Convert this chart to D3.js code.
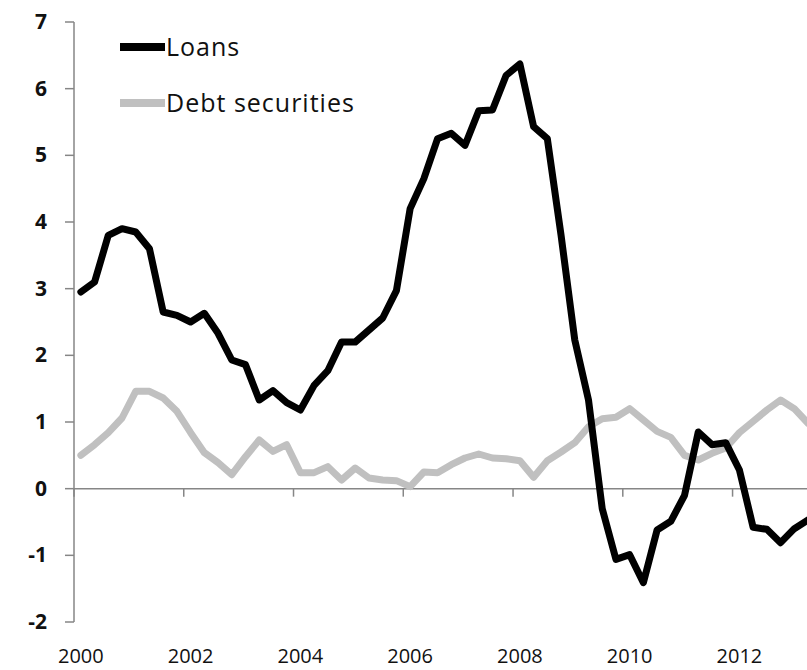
<!DOCTYPE html>
<html>
<head>
<meta charset="utf-8">
<script src="https://cdn.jsdelivr.net/npm/d3@7"></script>
<style>
  body { margin: 0; background: #fff; }
  text { font-family: "Open Sans", Lato, sans-serif; fill: #111; }
</style>
</head>
<body>
<div id="vis"></div>
<script>
// quarterly data, 2000Q1 onwards
const years = [2000, 2001, 2002, 2003, 2004, 2005, 2006, 2007, 2008, 2009, 2010, 2011, 2012, 2013];
const quarters = years.flatMap(y => ["Q1", "Q2", "Q3", "Q4"].map(q => y + q)).slice(0, 54);

const loans = [2.95, 3.1, 3.8, 3.9, 3.85, 3.6, 2.65, 2.6, 2.5, 2.63,
    2.33, 1.93, 1.86, 1.33, 1.47, 1.29, 1.18, 1.55, 1.77, 2.2,
    2.2, 2.38, 2.56, 2.97, 4.2, 4.65, 5.25, 5.33, 5.15, 5.67,
    5.68, 6.2, 6.37, 5.43, 5.25, 3.8, 2.23, 1.33, -0.3, -1.06,
    -0.99, -1.41, -0.62, -0.49, -0.1, 0.85, 0.66, 0.69, 0.28, -0.58,
    -0.61, -0.81, -0.6, -0.47];

const debtSecurities = [0.5, 0.66, 0.84, 1.06, 1.46, 1.46, 1.36, 1.16, 0.84, 0.54,
    0.39, 0.21, 0.48, 0.73, 0.56, 0.66, 0.24, 0.24, 0.33, 0.13,
    0.31, 0.16, 0.13, 0.12, 0.03, 0.25, 0.24, 0.36, 0.46, 0.52,
    0.46, 0.45, 0.42, 0.17, 0.42, 0.55, 0.69, 0.93, 1.05, 1.07,
    1.2, 1.03, 0.86, 0.77, 0.5, 0.43, 0.53, 0.61, 0.84, 1.01,
    1.18, 1.33, 1.2, 0.98];

const yTicks = [-2, -1, 0, 1, 2, 3, 4, 5, 6, 7];
const xLabels = ["2000", "2002", "2004", "2006", "2008", "2010", "2012"];

const seriesNames = ["Loans", "Debt securities"];
const seriesColors = ["#000000", "#c0c0c0"];

const svg = d3.select("#vis")
    .append("svg")
    .attr("width", 807)
    .attr("height", 670);

const x = d3.scaleBand()
    .domain(quarters)
    .range([74, 74 + 13.72 * quarters.length]);

const y = d3.scaleLinear()
    .domain([-2, 7])
    .range([622, 22]);

const axisColor = "#868686";

// y axis
svg.append("line")
    .attr("x1", 74).attr("x2", 74)
    .attr("y1", y(7)).attr("y2", y(-2))
    .attr("stroke", axisColor).attr("stroke-width", 1.5);

svg.selectAll(".ytick")
    .data(yTicks)
    .enter()
    .append("line")
    .attr("x1", 65).attr("x2", 74)
    .attr("y1", d => y(d)).attr("y2", d => y(d))
    .attr("stroke", axisColor).attr("stroke-width", 1.5);

svg.selectAll(".ylab")
    .data(yTicks)
    .enter()
    .append("text")
    .attr("x", 47)
    .attr("y", d => y(d) + 7)
    .attr("text-anchor", "end")
    .style("font-size", "21px")
    .style("font-weight", "bold")
    .text(d => d);

// x axis on zero
svg.append("line")
    .attr("x1", 74).attr("x2", 807)
    .attr("y1", y(0)).attr("y2", y(0))
    .attr("stroke", axisColor).attr("stroke-width", 1.5);

const tickQuarters = quarters.filter((d, i) => i % 8 === 0);

svg.selectAll(".xtick")
    .data(tickQuarters)
    .enter()
    .append("line")
    .attr("x1", d => x(d)).attr("x2", d => x(d))
    .attr("y1", y(0)).attr("y2", y(0) + 8)
    .attr("stroke", axisColor).attr("stroke-width", 1.5);

svg.selectAll(".xlab")
    .data(tickQuarters)
    .enter()
    .append("text")
    .attr("x", d => x(d) + x.bandwidth() / 2)
    .attr("y", 663)
    .attr("text-anchor", "middle")
    .style("font-size", "20px")
    .text((d, i) => xLabels[i]);

// lines
const line = d3.line()
    .x((d, i) => x(quarters[i]) + x.bandwidth() / 2)
    .y(d => y(d));

[debtSecurities, loans].forEach((data, k) => {
    svg.append("path")
        .datum(data)
        .attr("d", line)
        .attr("fill", "none")
        .attr("stroke", seriesColors[1 - k])
        .attr("stroke-width", 7)
        .attr("stroke-linejoin", "round")
        .attr("stroke-linecap", "round");
});

// legend
const legend = svg.append("g");
seriesNames.forEach((name, i) => {
    const ly = 47 + i * 56;
    legend.append("line")
        .attr("x1", 120).attr("x2", 165)
        .attr("y1", ly).attr("y2", ly)
        .attr("stroke", seriesColors[i])
        .attr("stroke-width", 8);
    legend.append("text")
        .attr("x", 166)
        .attr("y", ly + 9)
        .style("font-size", "25px")
        .style("letter-spacing", "1px")
        .text(name);
});
</script>
</body>
</html>
